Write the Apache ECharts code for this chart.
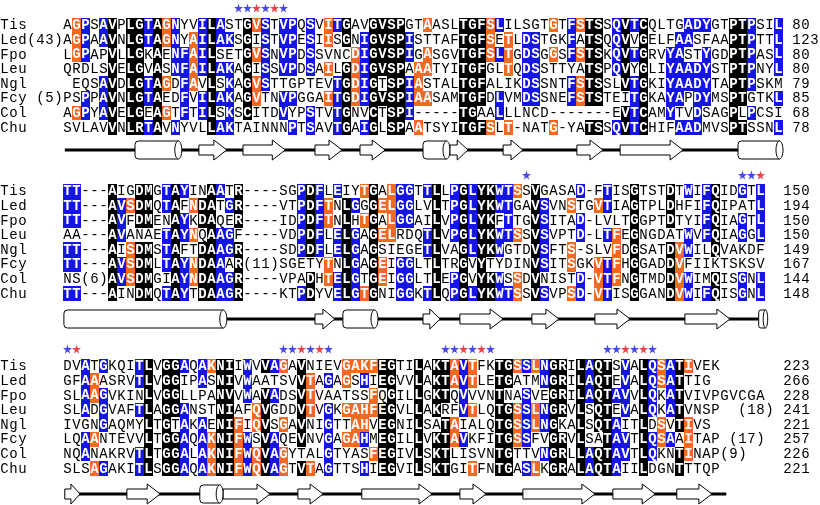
<!DOCTYPE html>
<html><head><meta charset="utf-8">
<script src="https://cdn.jsdelivr.net/npm/echarts@6/dist/echarts.min.js"></script>
<style>html,body{margin:0;padding:0;background:#fff}#c{width:820px;height:505px}</style>
</head><body><div id="c"></div>
<script>
// ---------- data ----------
const labels1 = ['Tis','Led(43)','Fpo','Leu','Ngl','Fcy (5)','Col','Chu'];
const labels2 = ['Tis','Led','Fpo','Leu','Ngl','Fcy','Col','Chu'];
const labels3 = ['Tis','Led','Fpo','Leu','Ngl','Fcy','Col','Chu'];

const seq1 = [
 'AGPSAVPLGTAGNYVILASTGVSTVPQSVITGAVGVSPGTAASLTGFSLILSGTGTFSTSSQVTCQLTGADYGTPTPSIL',
 'AGPAAVNLGTAGNYAILAKSGISTVPESIISGNIGVSPISTTAFTGFSETLDSTGKFATSQQVVGELFAASFAAPTPTTL',
 'LGPAPVLLGKAENFAILSETGVSNVPDSSVNCDIGVSPIGASGVTGFSLTGDSGGSFSTSKQVTGRVYASTYGDPTPASL',
 'QRDLSVELGVASNFAILAKAGISSVPDSAILGDIGVSPAAATYITGFGLTQDSSTTYATSPQVYGLIYAADYSTPTPNYL',
 ' EQSAVDLGTAGDFAVLSKAGVSTTGPTEVTGDIGTSPIASTALTGFALIKDSSNTFSTSSLVTGKIYAADYTAPTPSKM',
 'PSPPAVNLGTAEDFVILAKAGVTNVPGGAITGDIGVSPIAASAMTGFDLVMDSSNEFSTSTEITGKAYAPDYMSPTGTKL',
 'AGPYAVELGEAGTFTILSKSCITDVYPSTVTGNVCTSPI-----TGAALLLNCD-------EVTCAMYTVDSAGPLPCSI',
 'SVLAVVNLRTAVNYVLLAKTAINNNPTSAVTGAIGLSPAATSYITGFSLT-NATG-YATSSQVTCHIFAADMVSPTSSNL'
];
const seq2 = [
 'TT---AIGDMGTAYINAATR----SGPDFLEIYTGALGGTTLLPGLYKWTSSVGASAD-FTISGTSTDTWIFQIDGTL',
 'TT---AVSDMQTAFNDATGR----VTPDFTNLGGGELGGLVLTPGLYKWTGAVSVNSTGVTIAGTPLDHFIFQIPATL',
 'TT---AVFDMENAYKDAQER----IDPDFTNLHTGALGGAILVPGLYKFTTGVSITAD-LVLTGGPTDTYIFQIAGTL',
 'AA---AVANAETAYNQAAGF----VDPDFLELGAGELRDQTLVPGLYKWTSSVSVPTD-LTFEGNGDATWVFQIAGGL',
 'TT---AISDMSTAFTDAAGR----SDPDFLELGAGSIEGETLVAGLYKWGTDVSFTS-SLVFDGSATDVWILQVAKDF',
 'TT---AVSDMLTAYNDAAAR(11)SGETYTNLGAGEIGGLTLTRGVYTYDINVSITSGKVTFHGGADDVFIIKTSKSV',
 'NS(6)AVSDMGIAYNDAAGR----VPADHTELGTGEIGGLTLEPGVYKWSSDVNISTD-VTFNGTMDDVWIMQISGNL',
 'TT---AINDMQTAYTDAAGR----KTPDYVELGTGNIGGKTLQPGLYKWTSSVSVPSD-VTISGGANDVWIFQISGNL'
];
const seq3 = [
 'DVATGKQITLVGGAQAKNIIWVVAGAVNIEVGAKFEGTILAKTAVTFKTGSSLNGRILAQTSVALQSATIVEK',
 'GFAAASRVTLVGGIPASNIVWAATSVVTAGAGSHIEGVVLAKTAVTLETGATMNGRILAQTEVALQSATTIG',
 'SLAAGVKINLVGGLLPANVVWAVADSVTVAATSSFQGILLGKTQVVVNTNASVEGRILAQTAVVLQKATVIVPGVCGA',
 'SLADGVAFTLAGGANSTNIAFQVGDDVTVGKGAHFEGVLLAKRFVTLQTGSSLNGRVLSQTEVALQKATVNSP  (18)',
 'IVGNGAQMYLTGTAKAENIFIQVSGAVNIGTTAHVEGNILSATAIALQTGSSLNGKALSQTAITLDSVTIVS',
 'LQAANTEVVLTGGAQAKNIFWSVAQEVNVGAGAHMEGILLVKTAVKFITGSSFVGRVLSATAVTLQSAAITAP (17)',
 'NQANAKRVTLTGGALAKNIFWQVAGYTALGTYASFEGIVLSKTLISVNTGTTVNGRLLAQTAVTLQKNTINAP(9)',
 'SLSAGAKITLSGGAQAKNIFWQVAGTVTAGTTSHIEGVILSKTGITFNTGASLKGRALAQTAIILDGNTTTQP'
];
const ends1 = [80,123,80,80,79,85,68,78];
const ends2 = [150,194,150,150,149,167,144,148];
const ends3 = [223,266,228,241,221,257,226,221];

// conservation highlights: [column, class, rows mask Tis..Chu]; k identical, b similar, o other group
const hl1 = [[1,'o','11100010'],[2,'b','11100110'],[4,'b','11001110'],[5,'k','11111111'],[7,'k','11111111'],
 [8,'k','11111111'],[9,'b','11001101'],[10,'k','11111111'],[11,'o','11001010'],[12,'b','11110001'],
 [13,'b','00111110'],[14,'o','01111000'],[15,'b','11110110'],[16,'k','11111111'],[17,'b','11010101'],
 [18,'b','01011111'],[20,'k','11111110'],[21,'o','10101100'],[22,'b','11111000'],[24,'b','11110110'],
 [25,'b','11110101'],[27,'b','11110011'],[29,'o','11010100'],[30,'b','10001111'],[31,'k','11011111'],
 [32,'o','00111100'],[33,'b','01111101'],[34,'k','11111111'],[35,'k','11110100'],[36,'k','11111111'],
 [37,'k','11111111'],[38,'b','01101110'],[39,'o','00011101'],[40,'o','10110100'],[44,'k','11111111'],
 [45,'k','11111111'],[46,'k','11111101'],[47,'o','11100001'],[48,'b','10100110'],[49,'o','01110001'],
 [51,'b','01111100'],[52,'b','01111100'],[54,'o','10100001'],[56,'b','11101100'],[57,'o','10101100'],
 [58,'k','11111101'],[59,'k','11111101'],[61,'b','11110001'],[62,'k','11111011'],[63,'b','10101111'],
 [64,'k','11111111'],[67,'b','00111110'],[68,'b','01111101'],[69,'b','11011001'],[70,'b','10011111'],
 [71,'b','10111100'],[74,'k','11111111'],[75,'k','11111101'],[76,'b','11111010'],[79,'b','11110101']];
const hl2 = [[0,'b','11101101'],[1,'b','11101101'],[5,'k','11111111'],[6,'b','01110110'],[7,'o','01001110'],
 [8,'k','11101111'],[9,'k','11101111'],[11,'b','11011101'],[12,'k','11111111'],[13,'b','10110111'],
 [14,'o','01010110'],[15,'k','01101111'],[16,'k','11111111'],[17,'b','10011111'],[18,'b','01011011'],
 [19,'k','11101111'],[26,'b','11111001'],[27,'k','11111011'],[28,'b','11111000'],[29,'o','01100110'],
 [30,'b','10011011'],[31,'k','01111111'],[32,'b','01011111'],[33,'o','10100001'],[34,'k','11111111'],
 [35,'o','01010110'],[36,'o','11110000'],[37,'b','11100111'],[38,'b','11100111'],[40,'b','10011001'],
 [41,'k','11111111'],[43,'b','11110011'],[44,'k','11111111'],[45,'b','11111001'],[46,'k','11111111'],
 [47,'k','11111011'],[48,'b','11011011'],[49,'b','11110001'],[50,'o','10010011'],[52,'k','11111111'],
 [53,'b','01111101'],[56,'o','01001101'],[57,'b','10110011'],[59,'o','01000111'],[60,'b','11010111'],
 [61,'o','00011110'],[63,'k','11111111'],[67,'k','11101111'],[68,'o','00001111'],[69,'b','10011011'],
 [71,'b','11110001'],[72,'k','11111011'],[75,'b','10110011'],[77,'b','11110011']];
const hl3 = [[2,'b','11110110'],[3,'o','01100101'],[4,'b','10111001'],[8,'b','11010011'],[9,'k','11111111'],
 [11,'k','11111111'],[12,'k','11110111'],[13,'b','10011111'],[15,'b','11001111'],[16,'o','10000111'],
 [17,'k','11111111'],[18,'k','11111111'],[19,'o','00001111'],[20,'b','11100111'],[21,'o','00011011'],
 [22,'k','10111111'],[23,'b','10100111'],[24,'o','10001011'],[26,'k','11111101'],[27,'o','01110001'],
 [29,'b','01011111'],[31,'o','11010100'],[32,'o','10011100'],[33,'o','10011000'],[33,'b','01000101'],
 [34,'o','10110010'],[35,'k','11011111'],[36,'k','11111111'],[39,'k','11111111'],[41,'k','11110111'],
 [42,'k','11101111'],[43,'o','11001100'],[44,'b','11110100'],[45,'o','11010001'],[48,'k','11111111'],
 [49,'k','11011111'],[50,'o','10011100'],[51,'b','10111101'],[52,'o','10011001'],[53,'b','11011010'],
 [54,'k','11111111'],[55,'k','11110111'],[57,'k','11111111'],[58,'b','11100011'],[59,'k','11111011'],
 [60,'k','11111111'],[61,'b','00101111'],[62,'b','11110110'],[64,'k','11111111'],[65,'b','11110110'],
 [66,'o','11001100'],[67,'b','11110100'],[68,'k','11111011'],[69,'o','10001110']];

// starred columns (b = blue, r = red)
const stars1 = [[19,'b'],[20,'b'],[21,'r'],[22,'b'],[23,'r'],[24,'b']];
const stars2 = [[51,'b'],[75,'b'],[76,'b'],[77,'r']];
const stars3 = [[0,'b'],[1,'r'],[24,'b'],[25,'b'],[26,'r'],[27,'b'],[28,'r'],[29,'b'],
 [42,'b'],[43,'b'],[44,'r'],[45,'b'],[46,'r'],[47,'b'],[60,'b'],[61,'b'],[62,'r'],[63,'b'],[64,'r'],[65,'b']];

// secondary structure: [type, fromColumn, toColumn]  H helix, E strand
const ss1 = [['H',8,13.2],['E',15.1,18.2],['E',20,24.7],['E',28,31],['E',33,35.8],['H',40,43],['E',43,45],
 ['E',48.9,51.1],['E',57.1,60],['E',61.9,68.9],['H',75,80]];
const ss2 = [['H',0.1,18.2],['E',28,30.2],['H',31.1,35],['E',40,41.9],['E',44.1,48.9],['E',52.1,55.1],
 ['E',59.1,63],['E',69.1,74.1],['H',77.3,78.3]];
const ss3 = [['E',0.2,1.9],['E',7.1,10.8],['H',15.2,17.8],['E',17.8,23],['E',26.1,28.9],['E',33.2,41],
 ['E',44.1,47],['E',51.1,59.1],['E',61.1,65.8],['E',68.2,72.1]];
const ssLine1 = [0.2, 75];
const ssLine2 = [18.2, 77.3];
const ssLine3 = [0.2, 73.7];

// ---------- layout ----------
const L = { rowY:[25,191,366], pitch:14.65, starY:[8,175,349], ssY:[150,319,494], numCol:[81,80,80], labelCol:-7 };
const FILL = { k:'#000000', b:'#1616e4', o:'#f26a22' };
const STAR = { b:'#1a1ae0', r:'#e4141e' };

const blocks = [
 {seq:seq1, labels:labels1, ends:ends1, hl:hl1, stars:stars1, ss:ss1, line:ssLine1},
 {seq:seq2, labels:labels2, ends:ends2, hl:hl2, stars:stars2, ss:ss2, line:ssLine2},
 {seq:seq3, labels:labels3, ends:ends3, hl:hl3, stars:stars3, ss:ss3, line:ssLine3}
];

const cells = [], starData = [], ssItems = [];
blocks.forEach((B, b) => {
  const cls = B.seq.map(s => new Array(s.length).fill(''));
  B.hl.forEach(([c, k, mask]) => {
    for (let r = 0; r < 8; r++) {
      if (mask[r] === '1' && /[A-Z]/.test(B.seq[r][c] || '')) cls[r][c] = k;
    }
  });
  B.seq.forEach((s, r) => {
    const y = L.rowY[b] + r * L.pitch;
    B.labels[r].split('').forEach((ch, i) => { if (ch !== ' ') cells.push({c:L.labelCol + i, y, ch, k:''}); });
    s.split('').forEach((ch, i) => { if (ch !== ' ') cells.push({c:i, y, ch, k:cls[r][i]}); });
    String(B.ends[r]).split('').forEach((ch, i) => cells.push({c:L.numCol[b] + i, y, ch, k:''}));
  });
  B.stars.forEach(([c, k]) => starData.push({value:[c + 0.5, L.starY[b]], itemStyle:{color:STAR[k]}}));
  ssItems.push({t:'L', c0:B.line[0], c1:B.line[1], y:L.ssY[b]});
  B.ss.forEach(([t, c0, c1]) => ssItems.push({t, c0, c1, y:L.ssY[b]}));
});

function renderCell(params, api) {
  const it = cells[params.dataIndex];
  const p0 = api.coord([it.c, it.y]);
  const p1 = api.coord([it.c + 1, it.y]);
  const hh = Math.abs(api.size([0, L.pitch])[1]);
  const cx = (p0[0] + p1[0]) / 2, cy = p0[1];
  const children = [];
  if (it.k) {
    const xa = Math.round(p0[0]), xb = Math.round(p1[0]);
    const ya = Math.round(cy - hh / 2), yb = Math.round(cy + hh / 2);
    children.push({type:'rect', shape:{x:xa, y:ya, width:xb - xa, height:yb - ya}, style:{fill:FILL[it.k]}});
  }
  children.push({type:'text', style:{x:cx, y:cy + 0.5, text:it.ch,
    fill: it.k ? '#ffffff' : '#000000',
    font: (it.k ? 'bold ' : '') + '14px "Liberation Mono", monospace',
    align:'center', verticalAlign:'middle'}});
  return {type:'group', children};
}

function renderSS(params, api) {
  const it = ssItems[params.dataIndex];
  const p0 = api.coord([it.c0, it.y]), p1 = api.coord([it.c1, it.y]);
  const x0 = p0[0], x1 = p1[0], cy = p0[1];
  const st = {fill:'#ffffff', stroke:'#000000', lineWidth:1};
  if (it.t === 'L') {
    return {type:'rect', shape:{x:x0, y:cy - 1.5, width:x1 - x0, height:3}, style:{fill:'#000000'}};
  }
  if (it.t === 'E') {
    const hl = Math.min(13, (x1 - x0) * 0.6);
    const xh = x1 - hl;
    return {type:'polygon', shape:{points:[[x0,cy-5],[xh,cy-5],[xh,cy-10],[x1,cy],[xh,cy+10],[xh,cy+5],[x0,cy+5]]}, style:st};
  }
  const rx = Math.min(3.5, (x1 - x0) / 4);
  return {type:'group', children:[
    {type:'rect', shape:{x:x0, y:cy - 9, width:x1 - x0 - rx, height:18, r:[rx, 0, 0, rx]}, style:st},
    {type:'ellipse', shape:{cx:x1 - rx, cy:cy, rx:rx, ry:9}, style:st}
  ]};
}

const chart = echarts.init(document.getElementById('c'), null, {renderer:'canvas'});
chart.setOption({
  animation:false,
  backgroundColor:'#ffffff',
  grid:{left:0, right:0, top:0, bottom:0},
  xAxis:{type:'value', min:L.labelCol, max:L.labelCol + 820 / 9, show:false},
  yAxis:{type:'value', min:0, max:505, inverse:true, show:false},
  series:[
    {type:'custom', z:2, renderItem:renderSS, data:ssItems.map(d => [d.c0, d.y]), silent:true},
    {type:'custom', z:3, renderItem:renderCell, data:cells.map(d => [d.c, d.y]), silent:true},
    {type:'scatter', z:4, symbol:'path://M50,0 L61,35 L98,35 L68,57 L79,91 L50,70 L21,91 L32,57 L2,35 L39,35 Z',
     symbolSize:9, data:starData, silent:true}
  ]
});
</script></body></html>
